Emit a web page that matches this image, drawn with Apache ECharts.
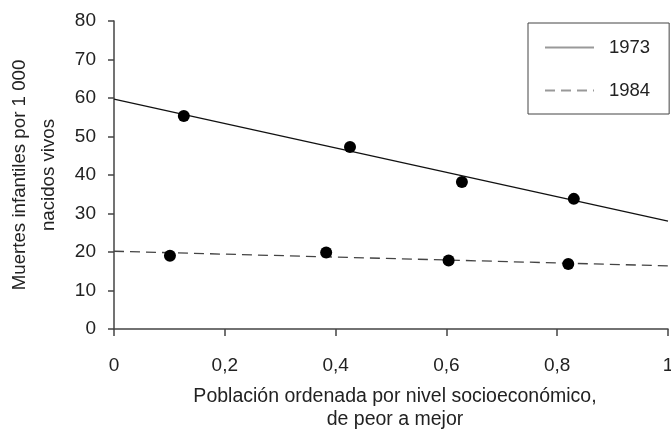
<!DOCTYPE html>
<html>
<head>
<meta charset="utf-8">
<script src="https://cdn.jsdelivr.net/npm/echarts@6/dist/echarts.min.js"></script>
<style>html,body{margin:0;padding:0;background:#fff;}#c{width:671px;height:438px;}</style>
</head>
<body>
<div id="c"></div>
<script>
const xTicks = [0, 0.2, 0.4, 0.6, 0.8, 1];
const yTicks = [0, 10, 20, 30, 40, 50, 60, 70, 80];
const seriesNames = ['1973', '1984'];
const line1973 = [[0, 59.7], [1, 28.0]];
const line1984 = [[0, 20.2], [1, 16.4]];
const points1973 = [[0.126, 55.3], [0.426, 47.3], [0.628, 38.2], [0.830, 33.8]];
const points1984 = [[0.101, 19.0], [0.383, 19.9], [0.604, 17.8], [0.820, 16.9]];
const xTitle = 'Población ordenada por nivel socioeconómico,\nde peor a mejor';
const yTitle = 'Muertes infantiles por 1 000\nnacidos vivos';

const FONT = 'Liberation Sans';
const TXT = '#222';
const FS = 19;
const chart = echarts.init(document.getElementById('c'), null, {renderer: 'canvas'});
chart.setOption({
  backgroundColor: '#fff',
  animation: false,
  textStyle: {fontFamily: FONT},
  grid: {left: 114, right: 3, top: 21, bottom: 109, containLabel: false, outerBoundsMode: 'none'},
  legend: {
    data: seriesNames,
    orient: 'vertical',
    left: 528, top: 23,
    padding: [15, 19, 14, 16],
    borderColor: '#444', borderWidth: 1,
    itemWidth: 49, itemHeight: 18, itemGap: 24,
    lineStyle: {color: '#999', width: 2},
    itemStyle: {opacity: 0},
    textStyle: {fontFamily: FONT, fontSize: 18.5, color: TXT, padding: [0, 0, 0, 10]}
  },
  xAxis: {
    type: 'value', min: xTicks[0], max: xTicks[xTicks.length - 1], interval: 0.2,
    axisLine: {lineStyle: {color: '#444', width: 1.5}},
    axisTick: {show: true, length: 7, lineStyle: {color: '#444', width: 1.5}},
    splitLine: {show: false},
    axisLabel: {fontFamily: FONT, fontSize: FS, color: TXT, margin: 27,
      formatter: v => String(Math.round(v * 10) / 10).replace('.', ',')},
    name: xTitle, nameLocation: 'middle', nameGap: 56,
    nameTextStyle: {fontFamily: FONT, fontSize: 19.5, color: TXT, lineHeight: 23, verticalAlign: 'top', padding: [0, 0, 0, 8]}
  },
  yAxis: {
    type: 'value', min: yTicks[0], max: yTicks[yTicks.length - 1], interval: 10,
    axisLine: {show: true, lineStyle: {color: '#444', width: 1.5}},
    axisTick: {show: true, length: 6, lineStyle: {color: '#444', width: 1.5}},
    splitLine: {show: false},
    axisLabel: {fontFamily: FONT, fontSize: FS, color: TXT, margin: 18},
    name: yTitle, nameLocation: 'middle', nameGap: 51, nameRotate: 90,
    nameTextStyle: {fontFamily: FONT, fontSize: 18.7, color: TXT, lineHeight: 29}
  },
  series: [
    {name: seriesNames[0], type: 'line', data: line1973, symbol: 'none',
      lineStyle: {color: '#111', width: 1.3, type: 'solid'}, itemStyle: {color: '#111'}, z: 2},
    {name: seriesNames[1], type: 'line', data: line1984, symbol: 'none',
      lineStyle: {color: '#444', width: 1.3, type: [10, 6]}, itemStyle: {color: '#444'}, z: 2},
    {name: 'p1973', type: 'scatter', data: points1973, symbol: 'circle', symbolSize: 12,
      itemStyle: {color: '#000', opacity: 1}, z: 3},
    {name: 'p1984', type: 'scatter', data: points1984, symbol: 'circle', symbolSize: 12,
      itemStyle: {color: '#000', opacity: 1}, z: 3}
  ]
});
</script>
</body>
</html>
